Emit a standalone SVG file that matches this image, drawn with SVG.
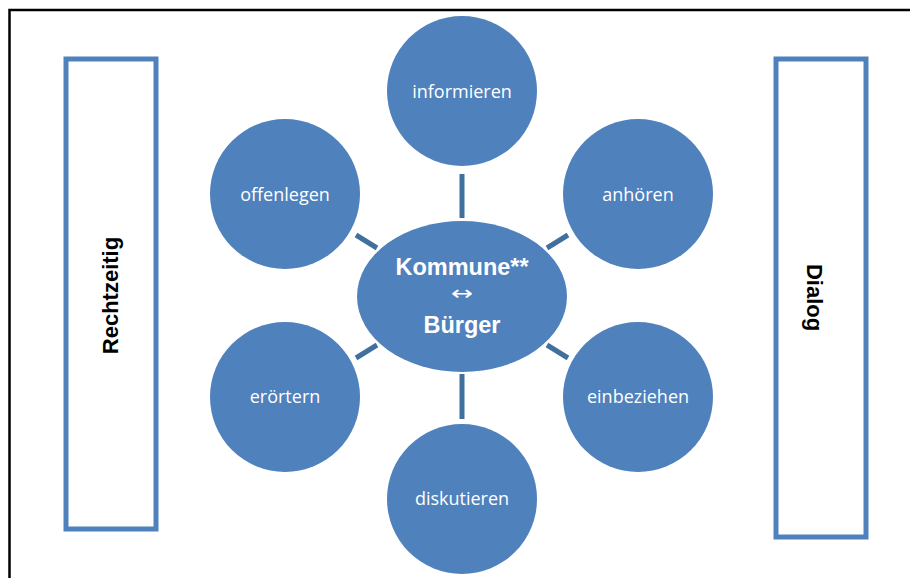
<svg xmlns="http://www.w3.org/2000/svg" width="910" height="578" viewBox="0 0 910 578">
<style>
.node{fill:#4F81BD;}
.lbl{font-family:"Open Sans","Noto Sans",sans-serif;font-size:18px;fill:#FFFFFF;text-anchor:middle;}
.ctr{font-family:"Liberation Sans",Arial,sans-serif;font-size:23.5px;font-weight:bold;fill:#FFFFFF;text-anchor:middle;}
.side{fill:none;stroke:#4F81BD;stroke-width:5;}
.stxt{font-family:"Liberation Sans",Arial,sans-serif;font-size:22px;font-weight:bold;fill:#000000;text-anchor:middle;}
.con line{stroke:#41709F;stroke-width:5;}
</style>
<rect width="910" height="578" fill="#FFFFFF"/>
<g id="frame">
<path d="M9.5 578 V10 H910" fill="none" stroke="#000000" stroke-width="2.5"/>
</g>
<g id="rechtzeitig">
<rect class="side" x="66" y="59" width="90" height="470"/>
<text class="stxt" transform="translate(118,295.5) rotate(-90)">Rechtzeitig</text>
</g>
<g id="dialog">
<rect class="side" x="776" y="59" width="90" height="478"/>
<text class="stxt" transform="translate(807,297.5) rotate(90)">Dialog</text>
</g>
<g id="connectors" class="con">
<line x1="462" y1="174" x2="462" y2="218"/>
<line x1="462" y1="374" x2="462" y2="419"/>
<line x1="356" y1="235" x2="377" y2="248"/>
<line x1="547" y1="248" x2="568" y2="235"/>
<line x1="356" y1="358" x2="377" y2="345"/>
<line x1="547" y1="345" x2="568" y2="358"/>
</g>
<g id="informieren">
<circle class="node" cx="462" cy="91" r="75"/>
<text class="lbl" x="462" y="98">informieren</text>
</g>
<g id="offenlegen">
<circle class="node" cx="285" cy="194" r="75"/>
<text class="lbl" x="285" y="201">offenlegen</text>
</g>
<g id="anhoeren">
<circle class="node" cx="638" cy="194" r="75"/>
<text class="lbl" x="638" y="201">anhören</text>
</g>
<g id="eroertern">
<circle class="node" cx="285" cy="397" r="75"/>
<text class="lbl" x="285" y="403">erörtern</text>
</g>
<g id="einbeziehen">
<circle class="node" cx="638" cy="397" r="75"/>
<text class="lbl" x="638" y="403">einbeziehen</text>
</g>
<g id="diskutieren">
<circle class="node" cx="462" cy="499" r="75"/>
<text class="lbl" x="462" y="505">diskutieren</text>
</g>
<g id="kommune-buerger">
<ellipse class="node" cx="462" cy="296.5" rx="105" ry="75.5"/>
<text class="ctr" x="462" y="275">Kommune**</text>
<text x="451" y="300" textLength="22" lengthAdjust="spacingAndGlyphs" style="font-family:'DejaVu Sans',sans-serif;font-size:20px;fill:#FFFFFF;">↔</text>
<text class="ctr" x="462" y="333">Bürger</text>
</g>
</svg>
